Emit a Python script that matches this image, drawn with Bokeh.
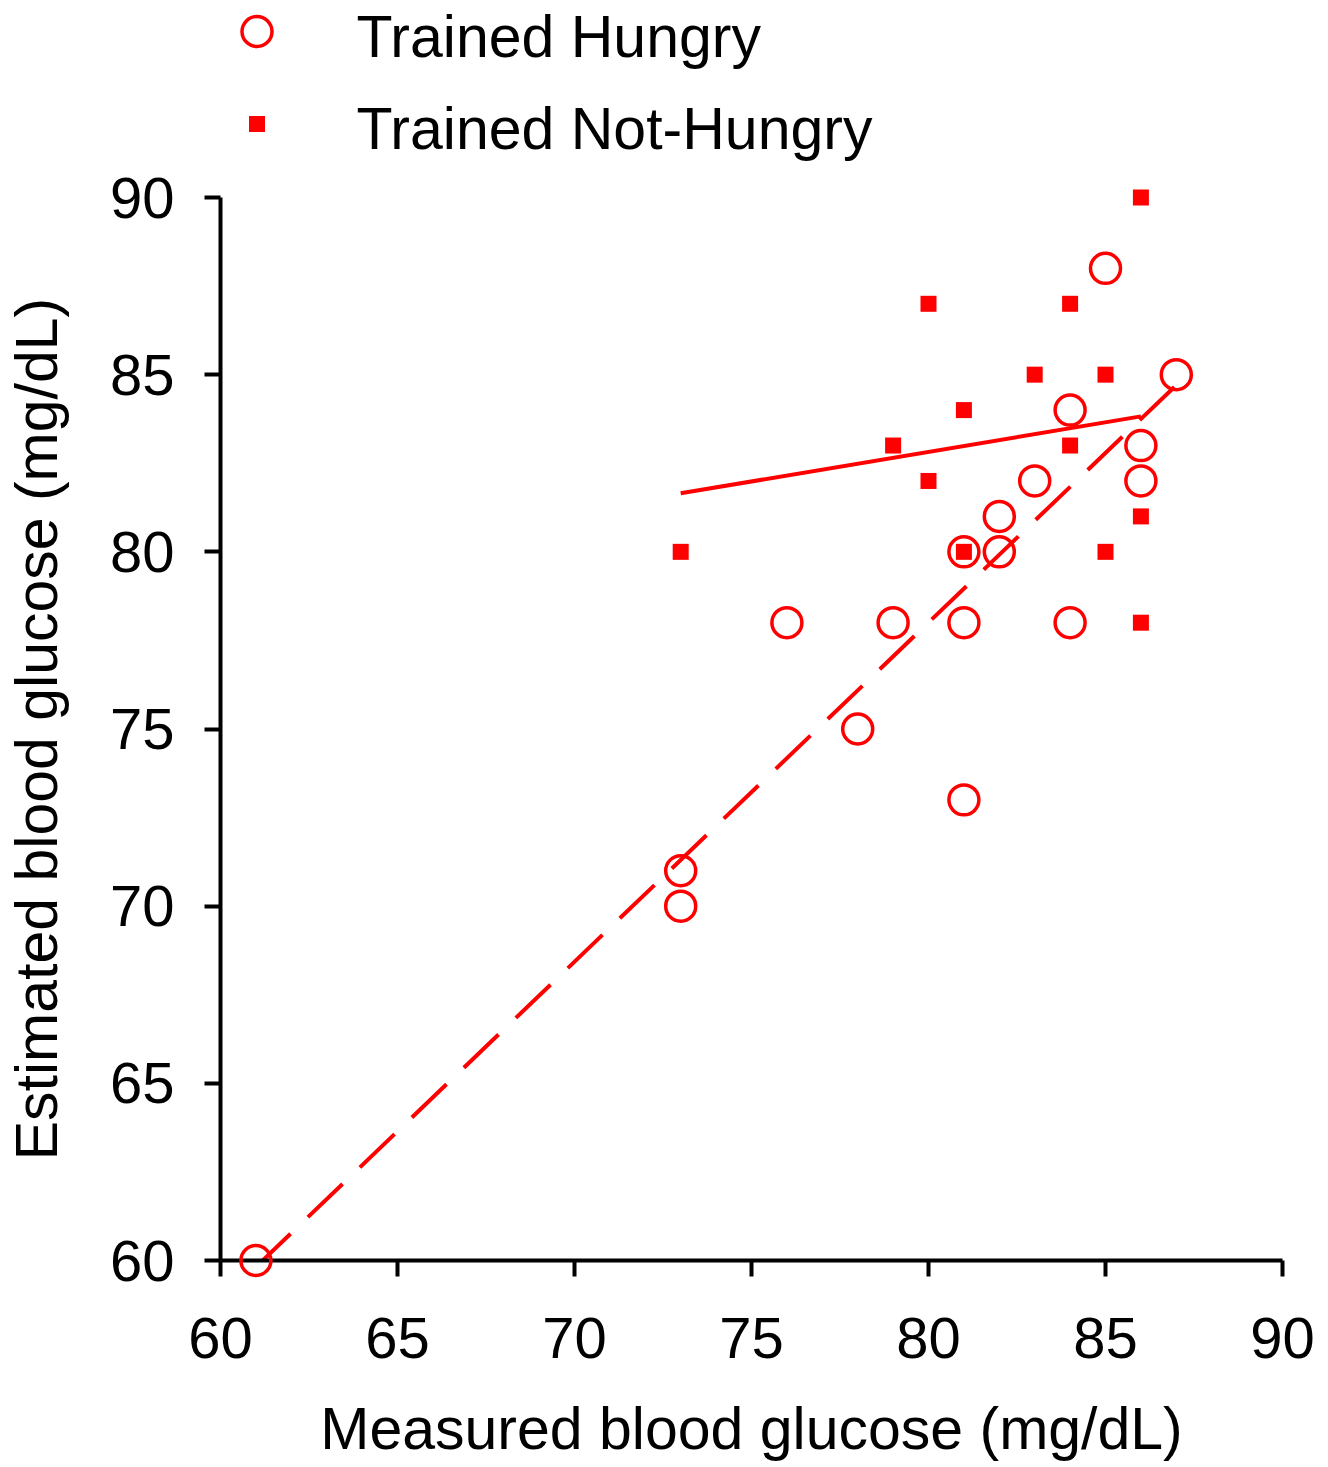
import numpy as np
from bokeh.plotting import figure
from bokeh.models import Range1d, FixedTicker
from bokeh.core.properties import value
from bokeh.embed import file_html
from bokeh.resources import INLINE

# ---- data ----
hungry_x = [61, 73, 73, 76, 78, 79, 81, 81, 81, 82, 82, 83, 84, 84, 85, 86, 86, 87]
hungry_y = [60, 71, 70, 78, 75, 78, 80, 78, 73, 81, 80, 82, 84, 78, 88, 83, 82, 85]
nothungry_x = [73, 79, 80, 80, 81, 81, 83, 84, 84, 85, 85, 86, 86, 86]
nothungry_y = [80, 83, 87, 82, 84, 80, 85, 87, 83, 85, 80, 90, 81, 78]
ticks = [60, 65, 70, 75, 80, 85, 90]
series_names = ["Trained Hungry", "Trained Not-Hungry"]
x_title = "Measured blood glucose (mg/dL)"
y_title = "Estimated blood glucose (mg/dL)"

FONT = "Liberation Sans"
RED = "#ff0000"
FS_TICK = "58px"
FS = "59px"

# ---- layout (pixels) ----
W, H = 1328, 1467
LEFT, RIGHT, AXIS_TOP, BOTTOM = 220, 46, 197, 207
X0, X1, Y0, Y1 = 60, 90, 60, 90

fw = W - LEFT - RIGHT            # frame width
fh_axis = H - AXIS_TOP - BOTTOM  # pixel span of 60..90 on the y axis
fh = H - BOTTOM                  # frame reaches the top so the key stays visible
Y_END = Y0 + (Y1 - Y0) * fh / fh_axis

p = figure(width=W, height=H, output_backend="svg", toolbar_location=None,
           title=None,
           x_range=Range1d(X0, X1), y_range=Range1d(Y0, Y_END),
           min_border_left=LEFT, min_border_right=RIGHT,
           min_border_top=0, min_border_bottom=BOTTOM)
p.outline_line_color = None
p.grid.visible = False
p.background_fill_color = "white"
p.border_fill_color = "white"


def px_to_x(px):
    return X0 + (px - LEFT) * (X1 - X0) / fw


def py_to_y(py):
    return Y0 + (fh - py) * (Y1 - Y0) / fh_axis


def fit(x, y):
    m, b = np.polyfit(x, y, 1)
    xs = np.array([min(x), max(x)], dtype=float)
    return xs, m * xs + b


hx, hy = fit(hungry_x, hungry_y)
nx, ny = fit(nothungry_x, nothungry_y)
p.line(hx, hy, line_color=RED, line_width=4, line_dash="48 24")
p.line(nx, ny, line_color=RED, line_width=4)

circle_style = dict(marker="circle", size=30, fill_color=None,
                    line_color=RED, line_width=3.5)
square_style = dict(marker="square", size=16, fill_color=RED, line_color=None)

r_h = p.scatter(hungry_x, hungry_y, **circle_style)
r_n = p.scatter(nothungry_x, nothungry_y, **square_style)
r_h.level = "overlay"
r_n.level = "overlay"

# ---- key above the axes (marks + labels) ----
key_px = 256.5
label_px = 356
rows_key_py = [31, 123.5]
rows_text_py = [36, 128]
k1 = p.scatter([px_to_x(key_px)], [py_to_y(rows_key_py[0])], **circle_style)
k2 = p.scatter([px_to_x(key_px)], [py_to_y(rows_key_py[1])], **square_style)
kt = p.text(x=[px_to_x(label_px)] * 2, y=[py_to_y(v) for v in rows_text_py],
            text=series_names, text_font=value(FONT), text_font_size=value(FS),
            text_color="black", text_align="left", text_baseline="middle")

# ---- y axis title, centred on the 60..90 axis ----
yt = p.text(x=[px_to_x(36)], y=[(Y0 + Y1) / 2], text=[y_title], angle=np.pi / 2,
            text_font=value(FONT), text_font_size=value(FS), text_color="black",
            text_align="center", text_baseline="middle")
for r in (k1, k2, kt, yt):
    r.level = "overlay"

for ax in (p.xaxis[0], p.yaxis[0]):
    ax.ticker = FixedTicker(ticks=ticks)
    ax.minor_tick_line_color = None
    ax.axis_line_width = 4
    ax.axis_line_color = "black"
    ax.major_tick_line_width = 4
    ax.major_tick_line_color = "black"
    ax.major_tick_out = 16
    ax.major_tick_in = 0
    ax.major_label_text_font = FONT
    ax.major_label_text_font_size = FS_TICK
    ax.major_label_text_color = "black"
    ax.axis_label_text_font = FONT
    ax.axis_label_text_font_size = FS
    ax.axis_label_text_font_style = "normal"
    ax.axis_label_text_color = "black"

p.yaxis.bounds = (Y0, Y1)
p.xaxis.axis_label = x_title
p.xaxis.major_label_standoff = 41
p.xaxis.axis_label_standoff = 35
p.yaxis.major_label_standoff = 30

open("out.html", "w").write(file_html(p, INLINE))
